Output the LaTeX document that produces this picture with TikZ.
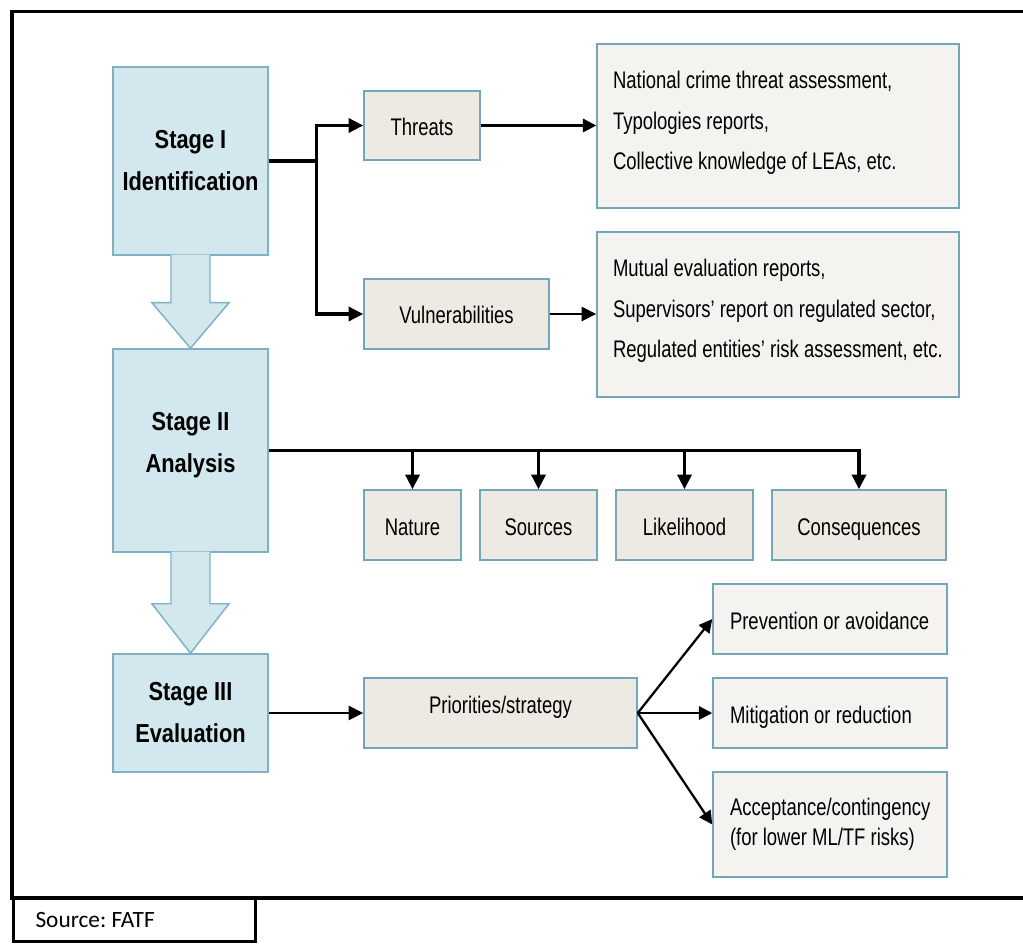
\documentclass[tikz,border=0pt]{standalone}
\usepackage{fontspec}
\setmainfont{Liberation Sans}[FakeStretch=0.77]
\newfontfamily\stagefont{Liberation Sans}[FakeStretch=0.84]
\newfontfamily\srcfont{Carlito}
\usetikzlibrary{arrows.meta,calc}
\definecolor{stagefill}{HTML}{D2E7EE}
\definecolor{stageline}{HTML}{7FB1C2}
\definecolor{topicfill}{HTML}{EDEAE4}
\definecolor{srcfill}{HTML}{F4F3F0}
\definecolor{boxline}{HTML}{72A6B8}
% left-aligned block of lines, of a fixed width
\newcommand\leftblock[2]{\makebox[#1][l]{\begin{tabular}{@{}l@{}}#2\end{tabular}}}
% move content up by half of #1 inside a vertically centred node
\newcommand\liftby[2]{\raisebox{0pt}[\height][\dimexpr\depth+#1\relax]{#2}}
\tikzset{
  every node/.style={inner sep=0pt},
  area/.style n args={4}{anchor=center, at={({(#1+#3)/2},{(#2+#4)/2})},
    minimum width={(#3-#1)*0.75pt}, minimum height={(#4-#2)*0.75pt}},
  stagebox/.style={draw=stageline, fill=stagefill, line width=1.1pt, align=center,
    font=\stagefont\bfseries\fontsize{19.5}{31.5}\selectfont},
  topicbox/.style={draw=boxline, fill=topicfill, line width=1.1pt,
    text height=18pt, text depth=3pt, font=\fontsize{18}{27}\selectfont},
  infobox/.style={draw=boxline, fill=srcfill, line width=1.1pt,
    font=\fontsize{18}{30.4}\selectfont},
  optbox/.style={draw=boxline, fill=srcfill, line width=1.1pt,
    font=\fontsize{18}{22.5}\selectfont},
  oneline/.style={text height=18pt, text depth=3pt},
  heavyconn/.style={line width=2.5pt, -{Triangle[length=11pt,width=10.5pt]}},
  heavyline/.style={line width=2.5pt},
  lightconn/.style={line width=1.7pt, -{Triangle[length=10pt,width=10pt]}},
  blockarrow/.style={fill=stagefill},
  blockedge/.style={draw=stageline, line width=1.1pt, line join=miter},
  frame/.style={line width=2.7pt, line join=miter},
}
\begin{document}
\frenchspacing
\begin{tikzpicture}[x=0.75pt, y=-0.75pt]
\useasboundingbox (0,0) rectangle (1023,944);

% outer frame (right side open)
\draw[frame] (1023,11.5) -- (12,11.5) -- (12,898) -- (1023,898);
\node[draw, line width=2.7pt, area={13.5}{898}{255.5}{941.5},
  font=\srcfont\fontsize{17.5}{20}\selectfont] (src) {\makebox[148.5pt][l]{Source: FATF}};

% stage boxes
\node[stagebox, area={113}{67}{268}{255}] (s1) {Stage I\\Identification};
\node[stagebox, area={113}{349}{268}{552}] (s2)
  {\liftby{10.5pt}{\begin{tabular}{@{}c@{}}Stage II\\Analysis\end{tabular}}};
\node[stagebox, area={113}{654}{268}{772}] (s3) {Stage III\\Evaluation};

% block arrows between stages
\fill[blockarrow] ($(s1.south)+(-19.5,-1)$) -- ($(s1.south)+(-19.5,47)$) -- ($(s1.south)+(-38.5,47)$)
  -- (s2.north) -- ($(s1.south)+(38.5,47)$) -- ($(s1.south)+(19.5,47)$) -- ($(s1.south)+(19.5,-1)$) -- cycle;
\draw[blockedge] ($(s1.south)+(-19.5,0)$) -- ($(s1.south)+(-19.5,47)$) -- ($(s1.south)+(-38.5,47)$)
  -- (s2.north) -- ($(s1.south)+(38.5,47)$) -- ($(s1.south)+(19.5,47)$) -- ($(s1.south)+(19.5,0)$);
\fill[blockarrow] ($(s2.south)+(-19.5,-1)$) -- ($(s2.south)+(-19.5,51)$) -- ($(s2.south)+(-38.5,51)$)
  -- (s3.north) -- ($(s2.south)+(38.5,51)$) -- ($(s2.south)+(19.5,51)$) -- ($(s2.south)+(19.5,-1)$) -- cycle;
\draw[blockedge] ($(s2.south)+(-19.5,0)$) -- ($(s2.south)+(-19.5,51)$) -- ($(s2.south)+(-38.5,51)$)
  -- (s3.north) -- ($(s2.south)+(38.5,51)$) -- ($(s2.south)+(19.5,51)$) -- ($(s2.south)+(19.5,0)$);

% stage I branch
\node[topicbox, area={364}{91}{480}{160}] (threats) {Threats};
\node[topicbox, area={364}{279}{549}{349}] (vuln) {Vulnerabilities};
\node[infobox, area={597}{44}{959}{208}] (infoT)
  {\liftby{7.5pt}{\leftblock{247.5pt}{National crime threat assessment,\\Typologies reports,\\Collective knowledge of LEAs, etc.}}};
\node[infobox, area={597}{232}{959}{397}] (infoV)
  {\liftby{8.2pt}{\leftblock{247.5pt}{Mutual evaluation reports,\\Supervisors’ report on regulated sector,\\Regulated entities’ risk assessment, etc.}}};

\coordinate (j1) at ($(s1.east)+(48,0)$);
\draw[heavyline] (s1.east) -- (j1);
\draw[heavyconn] (j1) |- (threats.west);
\draw[heavyconn] (j1) |- (vuln.west);
\draw[lightconn] (threats.east) -- (threats.east -| infoT.west);
\draw[heavyconn, line width=2pt] (vuln.east) -- (vuln.east -| infoV.west);

% stage II branch
\node[topicbox, area={364}{490}{461}{560}] (nature) {Nature};
\node[topicbox, area={480}{490}{597}{560}] (sources) {Sources};
\node[topicbox, area={616}{490}{753}{560}] (likely) {Likelihood};
\node[topicbox, area={772}{490}{946}{560}] (conseq) {Consequences};

\draw[heavyconn] (s2.east) -| (conseq.north);
\draw[heavyconn] (s2.east -| nature.north) -- (nature.north);
\draw[heavyconn] (s2.east -| sources.north) -- (sources.north);
\draw[heavyconn] (s2.east -| likely.north) -- (likely.north);

% stage III branch
\node[topicbox, area={364}{678}{637}{748}, text height=4pt, text depth=3pt] (prio) {Priorities/strategy};
\node[optbox, oneline, area={713}{584}{947}{654}] (prev) {\leftblock{150pt}{Prevention or avoidance}};
\node[optbox, oneline, area={713}{678}{947}{748}] (mitig) {\leftblock{150pt}{Mitigation or reduction}};
\node[optbox, area={713}{772}{947}{877}] (accept) {\leftblock{150pt}{Acceptance/contingency\\(for lower ML/TF risks)}};

\draw[heavyconn, line width=2pt] (s3.east) -- (prio.west);
\draw[lightconn] (prio.east) -- (prev.west);
\draw[lightconn] (prio.east) -- (mitig.west);
\draw[lightconn] (prio.east) -- (accept.west);
\end{tikzpicture}
\end{document}
